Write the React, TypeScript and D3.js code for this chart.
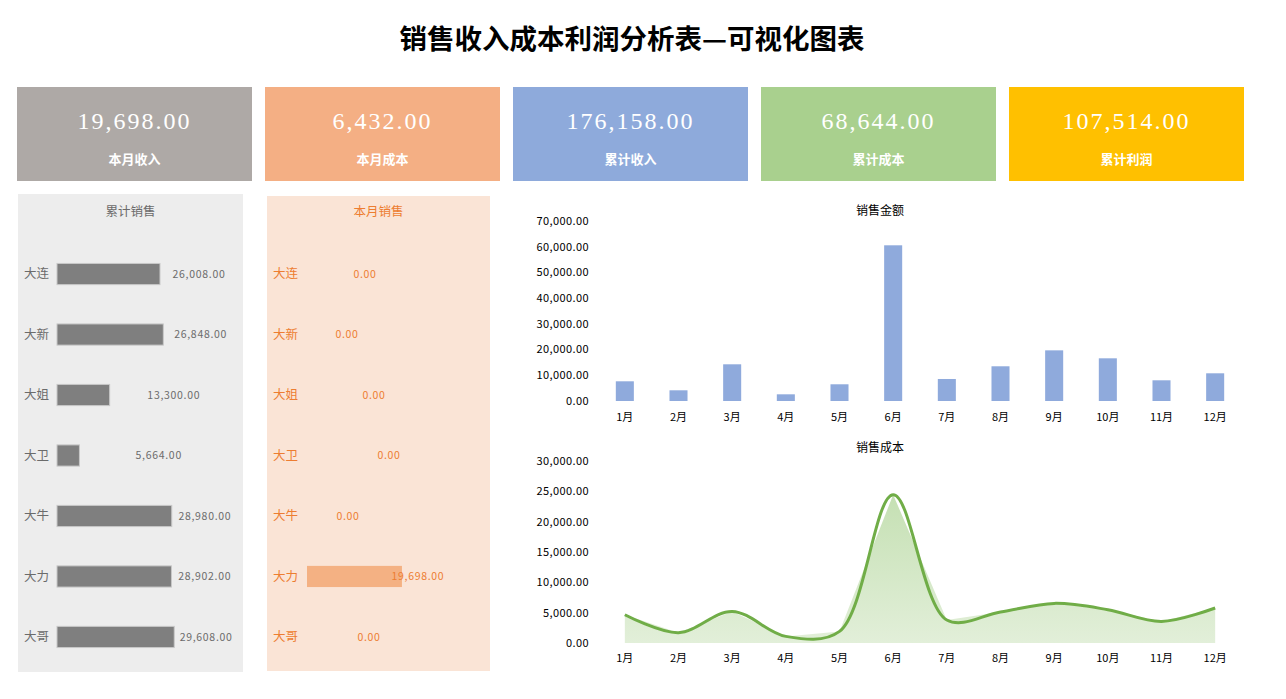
import * as d3 from 'd3'

// ---- data ----
const kpiLabels = ['本月收入', '本月成本', '累计收入', '累计成本', '累计利润']
const kpiValues = [19698, 6432, 176158, 68644, 107514]

const people = ['大连', '大新', '大姐', '大卫', '大牛', '大力', '大哥']
const totalSales = [26008, 26848, 13300, 5664, 28980, 28902, 29608]
const monthSales = [0, 0, 0, 0, 0, 19698, 0]

const months = ['1月', '2月', '3月', '4月', '5月', '6月', '7月', '8月', '9月', '10月', '11月', '12月']
const revenue = [7660, 4160, 14270, 2600, 6500, 60550, 8560, 13500, 19698, 16600, 8050, 10770]
const cost = [4660, 1700, 5210, 1090, 1910, 24450, 3790, 5110, 6530, 5490, 3560, 5770]

const revenueTicks = [0, 10000, 20000, 30000, 40000, 50000, 60000, 70000]
const costTicks = [0, 5000, 10000, 15000, 20000, 25000, 30000]

// ---- layout / style ----
const W = 1286, H = 699
const kpiColors = ['#aea9a6', '#f4af84', '#8eaadb', '#a9d08e', '#ffc000']
// hand-placed label nudges in the 本月销售 panel (px from bar end)
const monthLabelDx = [58, 40, 67, 82, 41, 16, 62]

const FONT = '"Noto Sans CJK SC", "Noto Sans", sans-serif'
const fmt = d3.format(',.2f')

function Kpis() {
  const x = d3.scaleBand<number>().domain(d3.range(kpiValues.length)).range([17, 1244]).paddingInner(13 / 248)
  return (
    <g>
      {kpiValues.map((v, i) => (
        <g key={i} transform={`translate(${x(i)},87)`}>
          <rect width={x.bandwidth()} height={94} fill={kpiColors[i]} />
          <text x={x.bandwidth() / 2} y={34} dy="0.35em" textAnchor="middle" fill="#fff"
            fontFamily='"Liberation Serif", "DejaVu Serif", serif' fontSize={24} letterSpacing={2}>{fmt(v)}</text>
          <text x={x.bandwidth() / 2} y={72} dy="0.35em" textAnchor="middle" fill="#fff"
            fontFamily={FONT} fontWeight="bold" fontSize={13}>{kpiLabels[i]}</text>
        </g>
      ))}
    </g>
  )
}

function PeoplePanel({ kind }: { kind: 'total' | 'month' }) {
  const isTotal = kind === 'total'
  const values = isTotal ? totalSales : monthSales
  const left = isTotal ? 18 : 267, right = isTotal ? 243 : 490
  const top = isTotal ? 194 : 196, bottom = isTotal ? 672 : 671
  const barX0 = isTotal ? 57 : 307
  const x = d3.scaleLinear().domain([0, isTotal ? 30000 : 20000]).range([barX0, barX0 + (isTotal ? 118.8 : 96.4)])
  const y = d3.scaleBand().domain(people).range([243.8, 667.2]).paddingInner(0.65).paddingOuter(0.325)
  const textCol = isTotal ? '#6b6b6b' : '#ed7d31'
  return (
    <g>
      <rect x={left} y={top} width={right - left} height={bottom - top} fill={isTotal ? '#ededed' : '#fae4d6'} />
      <text x={(left + right) / 2} y={212} dy="0.35em" textAnchor="middle" fontFamily={FONT}
        fontSize={12.5} fill={textCol}>{isTotal ? '累计销售' : '本月销售'}</text>
      {people.map((p, i) => {
        const yc = (y(p) ?? 0) + y.bandwidth() / 2
        const end = x(values[i])
        const lx = isTotal ? (end + 238) / 2 : end + monthLabelDx[i]
        return (
          <g key={p}>
            <text x={left + 6} y={yc} dy="0.35em" fontFamily={FONT} fontSize={12.5} fill={textCol}>{p}</text>
            {values[i] > 0 && (
              <rect x={barX0} y={y(p)} width={end - barX0} height={y.bandwidth()}
                fill={isTotal ? '#7f7f7f' : '#f4b183'} stroke={isTotal ? '#c8c8c8' : 'none'} strokeWidth={1} />
            )}
            <text x={lx} y={yc} dy="0.35em" textAnchor="middle" fontFamily={FONT} fontSize={10.5}
              letterSpacing={0.7} fill={textCol}>{fmt(values[i])}</text>
          </g>
        )
      })}
    </g>
  )
}

function RevenueChart() {
  const x = d3.scalePoint().domain(months).range([598, 1242]).padding(0.5)
  const y = d3.scaleLinear().domain([0, 70000]).range([401, 221])
  const bw = x.step() * 0.336
  return (
    <g fontFamily={FONT}>
      <text x={880} y={211} dy="0.35em" textAnchor="middle" fontSize={12} fill="#000">销售金额</text>
      {revenueTicks.map(t => (
        <text key={t} x={589} y={y(t)} dy="0.35em" textAnchor="end" fontSize={11} letterSpacing={0.4} fill="#000">{fmt(t)}</text>
      ))}
      {months.map((m, i) => (
        <g key={m}>
          <rect x={(x(m) ?? 0) - bw / 2} y={y(revenue[i])} width={bw} height={y(0) - y(revenue[i])} fill="#8faadc" />
          <text x={x(m)} y={417} dy="0.35em" textAnchor="middle" fontSize={11} fill="#000">{m}</text>
        </g>
      ))}
    </g>
  )
}

function CostChart() {
  const x = d3.scalePoint().domain(months).range([598, 1242]).padding(0.5)
  const y = d3.scaleLinear().domain([0, 30000]).range([643, 461])
  const area = d3.area<number>().x((_, i) => x(months[i]) ?? 0).y0(y(0)).y1(d => y(d))
  const line = d3.line<number>().x((_, i) => x(months[i]) ?? 0).y(d => y(d)).curve(d3.curveCatmullRom.alpha(0.5))
  return (
    <g fontFamily={FONT}>
      <defs>
        <linearGradient id="costFill" gradientUnits="userSpaceOnUse" x1={0} x2={0} y1={y(24450)} y2={y(0)}>
          <stop offset="0" stopColor="#c5e0b3" />
          <stop offset="1" stopColor="#e2efd9" />
        </linearGradient>
      </defs>
      <text x={880} y={448} dy="0.35em" textAnchor="middle" fontSize={12} fill="#000">销售成本</text>
      {costTicks.map(t => (
        <text key={t} x={589} y={y(t)} dy="0.35em" textAnchor="end" fontSize={11} letterSpacing={0.4} fill="#000">{fmt(t)}</text>
      ))}
      <path d={area(cost) ?? ''} fill="url(#costFill)" />
      <path d={line(cost) ?? ''} fill="none" stroke="#70ad47" strokeWidth={3} strokeLinejoin="round" />
      {months.map(m => (
        <text key={m} x={x(m)} y={658} dy="0.35em" textAnchor="middle" fontSize={11} fill="#000">{m}</text>
      ))}
    </g>
  )
}

export default function App() {
  return (
    <svg width={W} height={H} style={{ position: 'absolute', left: 0, top: 0, display: 'block', background: '#fff' }}>
      <text x={632} y={39} dy="0.35em" textAnchor="middle" fontFamily={FONT} fontWeight="bold"
        fontSize={27.5} fill="#000">销售收入成本利润分析表—可视化图表</text>
      <Kpis />
      <PeoplePanel kind="total" />
      <PeoplePanel kind="month" />
      <RevenueChart />
      <CostChart />
    </svg>
  )
}
